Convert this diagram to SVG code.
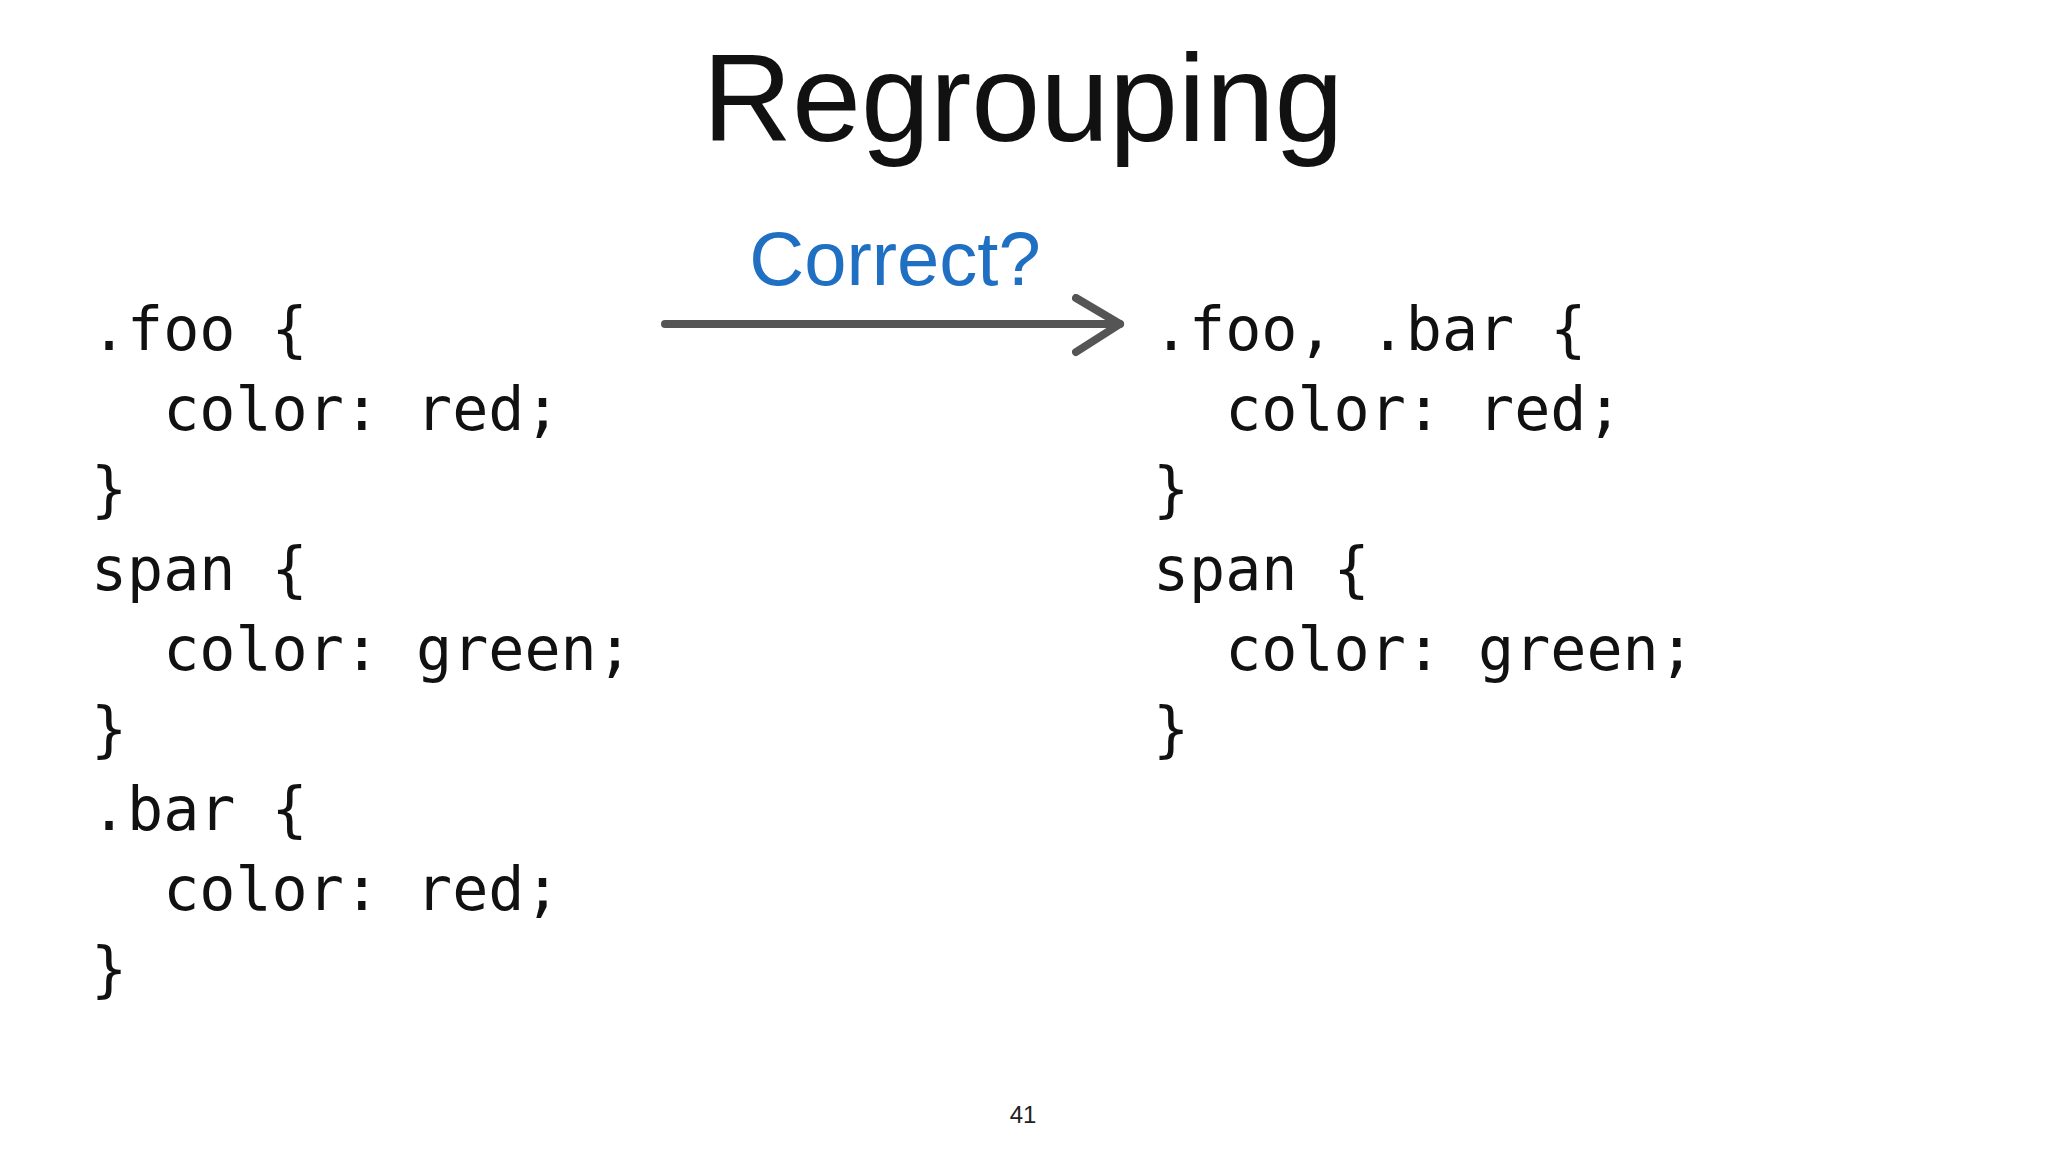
<svg xmlns="http://www.w3.org/2000/svg" width="2048" height="1152" viewBox="0 0 2048 1152">
<style>
.code{font-family:"DejaVu Sans Mono","Liberation Mono",monospace;font-size:60px;fill:#111}
</style>
<defs>
<marker id="ah" markerUnits="userSpaceOnUse" markerWidth="60" markerHeight="70" refX="48" refY="30" orient="auto">
<path d="M4,4 L48,30 L4,58" fill="none" stroke="#555" stroke-width="8" stroke-linejoin="round" stroke-linecap="round"/>
</marker>
</defs>
<rect width="2048" height="1152" fill="#fff"/>
<g id="title"><text x="1023" y="141" text-anchor="middle" font-family="Liberation Sans,Arial,sans-serif" font-size="124" fill="#111">Regrouping</text></g>
<g id="left">
<text class="code" xml:space="preserve"><tspan x="91" y="350">.foo {</tspan><tspan x="91" y="430">  color: red;</tspan><tspan x="91" y="510">}</tspan><tspan x="91" y="590">span {</tspan><tspan x="91" y="670">  color: green;</tspan><tspan x="91" y="750">}</tspan><tspan x="91" y="830">.bar {</tspan><tspan x="91" y="910">  color: red;</tspan><tspan x="91" y="990">}</tspan></text>
</g>
<g id="right">
<text class="code" xml:space="preserve"><tspan x="1153" y="350">.foo, .bar {</tspan><tspan x="1153" y="430">  color: red;</tspan><tspan x="1153" y="510">}</tspan><tspan x="1153" y="590">span {</tspan><tspan x="1153" y="670">  color: green;</tspan><tspan x="1153" y="750">}</tspan></text>
</g>
<g id="connectors">
<line x1="665" y1="324" x2="1120" y2="324" stroke="#555" stroke-width="8" stroke-linecap="round" marker-end="url(#ah)"/>
<text x="895" y="285" text-anchor="middle" font-family="Liberation Sans,Arial,sans-serif" font-size="76" fill="#1f6fc2">Correct?</text>
</g>
<g id="page"><text x="1023" y="1123" text-anchor="middle" font-family="Liberation Sans,Arial,sans-serif" font-size="24" fill="#222">41</text></g>
</svg>
